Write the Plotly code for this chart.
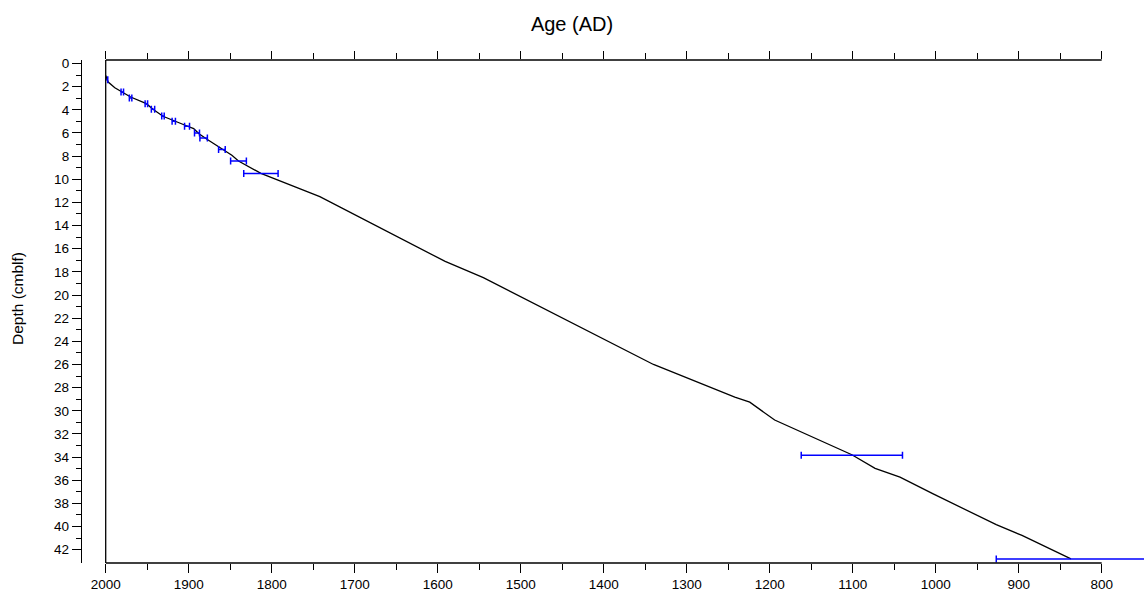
import plotly.graph_objects as go

# Age-depth model (black curve)
model_age = [2000, 1997, 1989, 1980, 1970, 1951, 1943, 1931, 1917, 1902, 1894, 1888,
             1878, 1860, 1848, 1840, 1813, 1742, 1591, 1545, 1340, 1242, 1224, 1194,
             1163, 1101, 1073, 1043, 1003, 949, 927, 896, 837]
model_depth = [1.03, 1.6, 2.1, 2.47, 2.9, 3.47, 3.96, 4.56, 4.99, 5.4, 5.62, 6.05,
               6.54, 7.36, 7.92, 8.43, 9.49, 11.5, 17.1, 18.5, 26.0, 28.83, 29.26, 30.8,
               31.8, 33.8, 34.97, 35.74, 37.18, 39.04, 39.84, 40.77, 42.8]

# Dated horizons with age uncertainty (blue bars)
dated_age = [1999, 1980, 1970, 1951, 1943, 1931, 1918, 1902, 1890, 1882, 1860, 1840, 1813, 1101, 837]
dated_depth = [1.40, 2.47, 2.98, 3.47, 3.96, 4.53, 4.99, 5.42, 6.0, 6.43, 7.43, 8.43, 9.5, 33.85, 42.8]
dated_err = [1.5, 1.5, 1.5, 1.5, 2, 1.5, 2, 3, 3, 4.5, 4, 9.5, 20.7, 61, 90]

# Axis ticks
age_ticks = list(range(2000, 799, -100))
age_minor = list(range(1950, 849, -100))
depth_ticks = list(range(0, 43, 2))
depth_minor = list(range(1, 42, 2))

W, H = 1144, 592
ML, MT, MB = 81, 59.5, 28.5
plot_left = 105.7
x_dom0 = (plot_left - ML) / (W - ML)
AGE_RANGE = [2000, 749]
DEPTH_RANGE = [43.15, -0.3]
FONT = "Liberation Sans, Arial, sans-serif"

fig = go.Figure()

fig.add_trace(go.Scatter(
    x=model_age, y=model_depth, mode="lines",
    line=dict(color="black", width=1.3), showlegend=False, hoverinfo="skip"))

fig.add_trace(go.Scatter(
    x=dated_age, y=dated_depth, mode="markers",
    marker=dict(size=1, color="rgba(0,0,0,0)"),
    error_x=dict(type="data", array=dated_err, symmetric=True,
                 color="#0000FF", thickness=1.5, width=3.5),
    showlegend=False, hoverinfo="skip"))

# Transparent companion trace so the top age axis gets drawn
fig.add_trace(go.Scatter(
    x=model_age, y=model_depth, xaxis="x2", yaxis="y", mode="markers",
    marker=dict(size=1, color="rgba(0,0,0,0)"),
    showlegend=False, hoverinfo="skip"))

axis_common = dict(
    range=AGE_RANGE, showgrid=False, zeroline=False, showline=False,
    ticks="outside", tickcolor="black", tickwidth=1.3,
    tickmode="array", tickvals=age_ticks,
    minor=dict(tickmode="array", tickvals=age_minor, ticks="outside",
               ticklen=6, tickcolor="black", tickwidth=1.3, showgrid=False),
)

fig.update_layout(
    width=W, height=H,
    margin=dict(l=ML, r=0, t=MT, b=MB, pad=0),
    paper_bgcolor="white", plot_bgcolor="white",
    font=dict(family=FONT, color="black", size=13.5),
    title=dict(text="Age (AD)", font=dict(size=20, family=FONT, color="black"),
               x=0.5, xref="container", xanchor="center",
               y=1 - 24 / H, yref="container", yanchor="middle"),
    xaxis=dict(
        domain=[x_dom0, 1], anchor="y", ticklen=9,
        ticktext=[str(v) for v in age_ticks], tickfont=dict(size=13.5),
        **axis_common),
    xaxis2=dict(
        domain=[x_dom0, 1], overlaying="x", side="top", anchor="y",
        showticklabels=False, ticklen=8,
        **axis_common),
    yaxis=dict(
        range=DEPTH_RANGE, anchor="free", position=0,
        showgrid=False, zeroline=False, showline=True,
        linecolor="black", linewidth=1.3,
        ticks="outside", tickcolor="black", tickwidth=1.3, ticklen=9,
        tickmode="array", tickvals=depth_ticks, tickfont=dict(size=13.5),
        minor=dict(tickmode="array", tickvals=depth_minor, ticks="outside",
                   ticklen=5, tickcolor="black", tickwidth=1.3, showgrid=False),
    ),
)

# Frame lines: top and bottom axes span the labelled age interval, left edge at 2000
frame = dict(color="black", width=1.3)
fig.add_shape(type="line", xref="x", yref="paper", x0=age_ticks[0], x1=age_ticks[-1],
              y0=1, y1=1, line=frame)
fig.add_shape(type="line", xref="x", yref="paper", x0=age_ticks[0], x1=age_ticks[-1],
              y0=0, y1=0, line=frame)
fig.add_shape(type="line", xref="paper", yref="paper", x0=x_dom0, x1=x_dom0,
              y0=0, y1=1, line=frame)

# Depth axis title
fig.add_annotation(
    text="Depth (cmblf)", textangle=-90, showarrow=False,
    xref="paper", yref="paper",
    x=(17 - ML) / (W - ML),
    y=(H - MB - 299) / (H - MT - MB),
    xanchor="center", yanchor="middle",
    font=dict(size=15.5, family=FONT, color="black"))

fig.write_html("out.html")
